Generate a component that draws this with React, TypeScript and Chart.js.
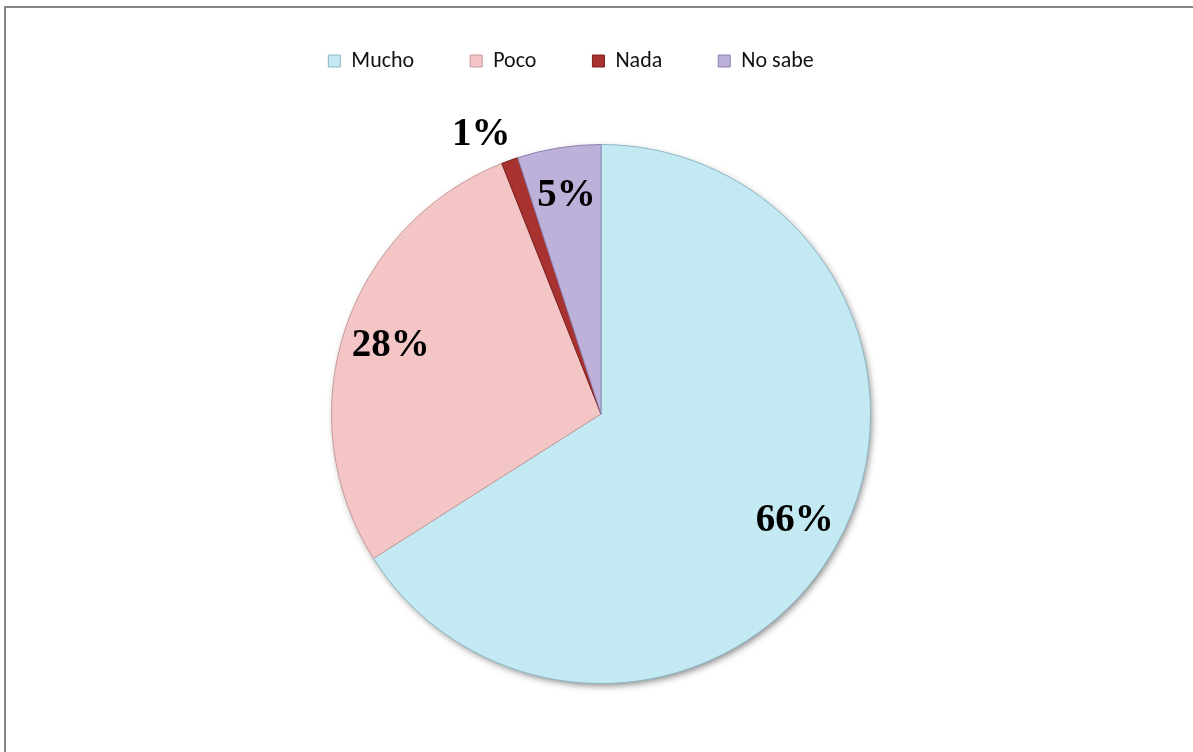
import React, { useEffect, useRef } from "react";
import { Chart, registerables } from "chart.js";

Chart.register(...registerables);

const categories = ["Mucho", "Poco", "Nada", "No sabe"];
const percentages = [66, 28, 1, 5];
const sliceColors = ["#C3E9F3", "#F3C5C5", "#A8322F", "#BDB1D9"];
const sliceBorders = ["#8DB9C6", "#C99A9A", "#7A1E1C", "#8E80B0"];

const shadowPlugin = {
  id: "pieShadow",
  beforeDatasetsDraw(chart: any) {
    const arc = chart.getDatasetMeta(0).data[0];
    if (!arc) return;
    const { x, y, outerRadius } = arc.getProps(["x", "y", "outerRadius"], true);
    const ctx = chart.ctx;
    ctx.save();
    ctx.shadowColor = "rgba(0,0,0,0.5)";
    ctx.shadowBlur = 7;
    ctx.shadowOffsetX = 2;
    ctx.shadowOffsetY = 3;
    ctx.beginPath();
    ctx.arc(x, y, outerRadius - 1, 0, Math.PI * 2);
    ctx.fillStyle = "#ffffff";
    ctx.fill();
    ctx.restore();
  },
};

const labelPlugin = {
  id: "sliceLabels",
  afterDatasetsDraw(chart: any) {
    const ctx = chart.ctx;
    const meta = chart.getDatasetMeta(0);
    ctx.save();
    ctx.font = "bold 39px 'Liberation Serif', 'Times New Roman', serif";
    ctx.fillStyle = "#000000";
    ctx.textBaseline = "middle";
    meta.data.forEach((arc: any, i: number) => {
      const { x, y, startAngle, endAngle, outerRadius } = arc.getProps(
        ["x", "y", "startAngle", "endAngle", "outerRadius"],
        true
      );
      const mid = (startAngle + endAngle) / 2;
      const v = percentages[i];
      const outside = v < 3;
      const r = outerRadius * (outside ? 1.1 : 0.82);
      const px = x + Math.cos(mid) * r;
      const py = y + Math.sin(mid) * r;
      ctx.textAlign = outside ? "right" : "center";
      ctx.fillText(v + "%", outside ? px + 10 : px, py);
    });
    ctx.restore();
  },
};

const legendLayout = {
  id: "legendLayout",
  beforeInit(chart: any) {
    const legend = chart.legend;
    if (!legend) return;
    const fit = legend.fit;
    legend.fit = function () {
      fit.call(this);
      this.height = 144;
    };
  },
  afterLayout(chart: any) {
    const l = chart.legend;
    if (!l) return;
    l.top -= 6;
    l.bottom -= 6;
    l.left -= 30;
    l.right -= 30;
  },
};

export default function App() {
  const ref = useRef<HTMLCanvasElement | null>(null);

  useEffect(() => {
    if (!ref.current) return;
    const chart = new Chart(ref.current, {
      type: "pie",
      data: {
        labels: categories,
        datasets: [
          {
            data: percentages,
            backgroundColor: sliceColors,
            borderColor: sliceBorders,
            borderWidth: 1,
          },
        ],
      },
      options: {
        responsive: false,
        animation: false,
        layout: { padding: { top: 0, left: 9, right: 0, bottom: 68 } },
        plugins: {
          legend: {
            position: "top",
            labels: {
              boxWidth: 12,
              boxHeight: 12,
              padding: 56,
              color: "#111111",
              font: { family: "Carlito, Lato, sans-serif", size: 22 },
            },
          },
          tooltip: { enabled: false },
        },
      },
      plugins: [legendLayout, shadowPlugin, labelPlugin],
    });
    return () => chart.destroy();
  }, []);

  return (
    <div
      style={{
        position: "fixed",
        left: 0,
        top: 0,
        width: 1193,
        height: 752,
        overflow: "hidden",
        background: "#ffffff",
      }}
    >
      <div
        style={{
          position: "absolute",
          left: 4,
          top: 6,
          width: 1200,
          height: 800,
          borderTop: "2px solid #868686",
          borderLeft: "2px solid #868686",
        }}
      />
      <canvas
        ref={ref}
        width={1193}
        height={752}
        style={{ position: "absolute", left: 0, top: 0 }}
      />
    </div>
  );
}
